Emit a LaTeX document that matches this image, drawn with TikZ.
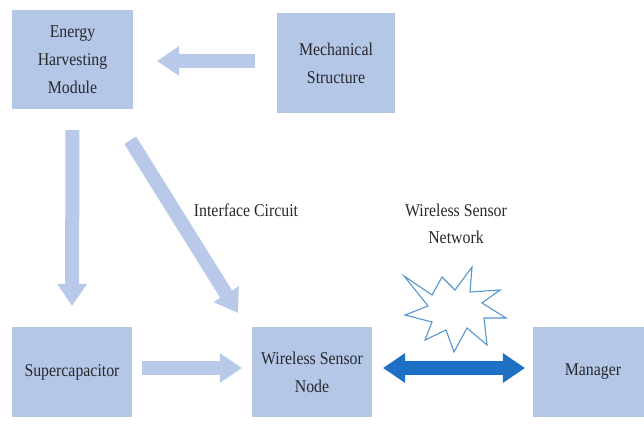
\documentclass[tikz,border=0pt]{standalone}
\usepackage{fontspec}
\setmainfont{Liberation Serif}[FakeStretch=0.88]
\usetikzlibrary{arrows.meta}
\definecolor{boxblue}{RGB}{180,199,231}
\definecolor{arrowblue}{RGB}{184,201,234}
\definecolor{darkblue}{RGB}{30,112,196}
\definecolor{starblue}{RGB}{85,150,210}
\definecolor{textgray}{RGB}{40,40,45}

\begin{document}
\begin{tikzpicture}[x=1pt,y=-1pt,
  block/.style={fill=boxblue, text=textgray, align=center, inner sep=0pt,
    minimum width=120pt, minimum height=90pt, font=\fontsize{18}{28}\selectfont},
  lbl/.style={text=textgray, align=center, font=\fontsize{18}{27}\selectfont},
  fatarrow/.style={draw=arrowblue, line width=14pt,
    -{Triangle[length=22pt,width=30pt,line width=0pt]}},
  twoway/.style={draw=darkblue, line width=14pt,
    {Triangle[length=22pt,width=30pt,line width=0pt]}-{Triangle[length=22pt,width=30pt,line width=0pt]}}]
\useasboundingbox (0,0) rectangle (644,425);
\clip (0,0) rectangle (644,425);

% boxes
\node[block, minimum width=121pt, minimum height=99pt] (ehm) at (72.5,59.5) {Energy\\Harvesting\\Module};
\node[block, minimum width=118pt, minimum height=100pt] (mech) at (336,63) {Mechanical\\Structure};
\node[block] (sc) at (72,372) {Supercapacitor};
\node[block] (wsn) at (312,372) {Wireless Sensor\\Node};
\node[block] (mgr) at (593,372) {Manager};

% texts
\node[lbl] (ic) at (246,210) {Interface Circuit};
\node[lbl] (wsnet) at (456,224) {Wireless Sensor\\Network};

% star
\draw[starblue, fill=white, line width=1.1pt, line join=miter]
  (404,276) -- (432,295) -- (442,277) -- (455,290) -- (472,267) -- (470,292)
  -- (500,290) -- (482,303) -- (506,318) -- (484,318) -- (487,345) -- (467,328)
  -- (454,352) -- (446,330) -- (425,340) -- (432,322) -- (405,315) -- (428,306) -- cycle;

% arrows
\coordinate (ictail) at ([shift={(-3,31)}]ehm.south east);
\coordinate (ictip) at ([shift={(-14,-14)}]wsn.north west);
\draw[fatarrow, shorten <=22pt, shorten >=24pt] ([yshift=2pt]mech.west) -- ([yshift=2pt]mech.west -| ehm.east);
\draw[fatarrow, shorten <=21pt, shorten >=21pt] (ehm.south) -- (sc.north);
\draw[fatarrow] (ictail) -- (ictip);
\draw[fatarrow, shorten <=10pt, shorten >=10pt] ([yshift=4pt]sc.east) -- ([yshift=4pt]wsn.west);
\draw[twoway, shorten <=11pt, shorten >=8pt] ([yshift=4pt]wsn.east) -- ([yshift=4pt]mgr.west);
\end{tikzpicture}
\end{document}
